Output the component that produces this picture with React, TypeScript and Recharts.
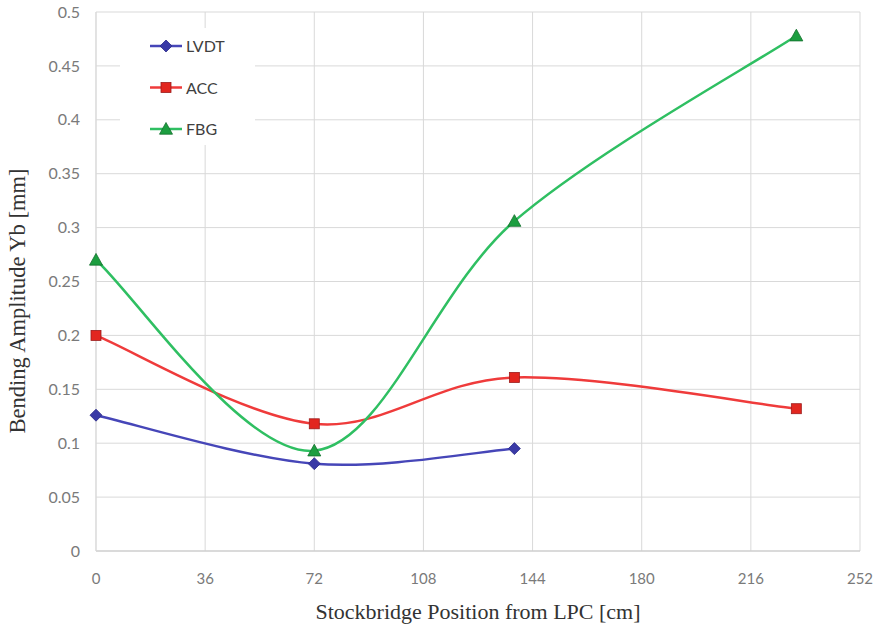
import { LineChart, Line, XAxis, YAxis, CartesianGrid, Legend } from "recharts";

const lvdtX = [0, 72, 138];
const lvdtY = [0.126, 0.081, 0.095];
const accX = [0, 72, 138, 231];
const accY = [0.2, 0.118, 0.161, 0.132];
const fbgX = [0, 72, 138, 231];
const fbgY = [0.27, 0.093, 0.306, 0.478];

const xTicks = [0, 36, 72, 108, 144, 180, 216, 252];
const yTicks = [0, 0.05, 0.1, 0.15, 0.2, 0.25, 0.3, 0.35, 0.4, 0.45, 0.5];

const toPoints = (xs: number[], ys: number[]) => xs.map((x, i) => ({ x, y: ys[i] }));

const lvdt = toPoints(lvdtX, lvdtY);
const acc = toPoints(accX, accY);
const fbg = toPoints(fbgX, fbgY);

const COLORS = {
  lvdt: { line: "#4646b8", fill: "#3a3aa6", stroke: "#2c2c8a" },
  acc: { line: "#ef3b3b", fill: "#e2261f", stroke: "#9c1c1c" },
  fbg: { line: "#2fbf62", fill: "#1c9e40", stroke: "#13702c" },
};

// Excel-like smoothed line (uniform Catmull-Rom as bezier)
const smoothCurve = (context: any) => {
  let pts: number[][] = [];
  return {
    areaStart() {},
    areaEnd() {},
    lineStart() {
      pts = [];
    },
    point(x: number, y: number) {
      pts.push([+x, +y]);
    },
    lineEnd() {
      if (!pts.length) return;
      context.moveTo(pts[0][0], pts[0][1]);
      for (let i = 0; i < pts.length - 1; i++) {
        const p0 = pts[i - 1] || pts[i];
        const p1 = pts[i];
        const p2 = pts[i + 1];
        const p3 = pts[i + 2] || p2;
        context.bezierCurveTo(
          p1[0] + (p2[0] - p0[0]) / 6,
          p1[1] + (p2[1] - p0[1]) / 6,
          p2[0] - (p3[0] - p1[0]) / 6,
          p2[1] - (p3[1] - p1[1]) / 6,
          p2[0],
          p2[1]
        );
      }
    },
  };
};

const Diamond = ({ cx, cy, r = 6 }: any) => (
  <path
    d={`M${cx},${cy - r}L${cx + r},${cy}L${cx},${cy + r}L${cx - r},${cy}Z`}
    fill={COLORS.lvdt.fill}
    stroke={COLORS.lvdt.stroke}
    strokeWidth={0.8}
  />
);

const Square = ({ cx, cy, r = 5 }: any) => (
  <rect
    x={cx - r}
    y={cy - r}
    width={r * 2}
    height={r * 2}
    fill={COLORS.acc.fill}
    stroke={COLORS.acc.stroke}
    strokeWidth={0.8}
  />
);

const Triangle = ({ cx, cy, r = 6.5 }: any) => (
  <path
    d={`M${cx},${cy - r}L${cx + r},${cy + r * 0.8}L${cx - r},${cy + r * 0.8}Z`}
    fill={COLORS.fbg.fill}
    stroke={COLORS.fbg.stroke}
    strokeWidth={0.8}
  />
);

const legendItems = [
  { name: "LVDT", color: COLORS.lvdt.line, Marker: Diamond },
  { name: "ACC", color: COLORS.acc.line, Marker: Square },
  { name: "FBG", color: COLORS.fbg.line, Marker: Triangle },
];

const LegendBox = () => (
  <div style={{ background: "#fff", width: 135, height: 117 }}>
    <svg width={135} height={117}>
      {legendItems.map((it, i) => {
        const y = 18 + i * 41.5;
        return (
          <g key={it.name}>
            <line x1={30} x2={62} y1={y} y2={y} stroke={it.color} strokeWidth={2.5} />
            <it.Marker cx={46} cy={y} />
            <text x={66} y={y + 6} fontFamily="Lato, 'Open Sans', sans-serif" fontSize={16} fill="#404040">
              {it.name}
            </text>
          </g>
        );
      })}
    </svg>
  </div>
);

const YTitle = () => (
  <text
    x={17}
    y={301}
    transform="rotate(-90 17 301)"
    textAnchor="middle"
    dominantBaseline="central"
    fill="#333"
    fontSize={22.5}
    fontFamily="'Liberation Serif', 'DejaVu Serif', serif"
  >
    Bending Amplitude Yb [mm]
  </text>
);

export default function App() {
  return (
    <div style={{ position: "absolute", left: 0, top: 0, background: "#fff" }}>
      <LineChart width={879} height={626} margin={{ top: 12, right: 19, bottom: 0, left: 0 }}>
        <CartesianGrid stroke="#d9d9d9" strokeWidth={1} />
        <XAxis
          type="number"
          dataKey="x"
          domain={[0, 252]}
          ticks={xTicks}
          allowDuplicatedCategory={false}
          height={75}
          tickLine={false}
          axisLine={{ stroke: "#c8c8c8" }}
          tickMargin={16}
          tick={{ fill: "#7a7a7a", fontSize: 15, fontFamily: "'Liberation Sans Narrow', Lato, sans-serif" }}
          label={{
            value: "Stockbridge Position from LPC [cm]",
            position: "insideBottom",
            offset: 7,
            fill: "#333",
            fontSize: 22,
            fontFamily: "'Liberation Serif', 'DejaVu Serif', serif",
          }}
        />
        <YAxis
          type="number"
          domain={[0, 0.5]}
          ticks={yTicks}
          width={96}
          tickLine={false}
          axisLine={{ stroke: "#d9d9d9" }}
          tickMargin={10}
          tick={{ fill: "#7a7a7a", fontSize: 16, fontFamily: "Lato, 'Open Sans', sans-serif" }}
          label={{ content: () => <YTitle /> }}
        />
        <Legend
          layout="vertical"
          align="center"
          verticalAlign="middle"
          wrapperStyle={{ left: 120, top: 28, width: 135 }}
          content={() => <LegendBox />}
        />
        <Line
          data={lvdt}
          dataKey="y"
          name="LVDT"
          type={smoothCurve as any}
          stroke={COLORS.lvdt.line}
          strokeWidth={2.5}
          isAnimationActive={false}
          dot={(p: any) => <Diamond key={`l-${p.index}`} cx={p.cx} cy={p.cy} />}
          activeDot={false}
        />
        <Line
          data={acc}
          dataKey="y"
          name="ACC"
          type={smoothCurve as any}
          stroke={COLORS.acc.line}
          strokeWidth={2.5}
          isAnimationActive={false}
          dot={(p: any) => <Square key={`a-${p.index}`} cx={p.cx} cy={p.cy} />}
          activeDot={false}
        />
        <Line
          data={fbg}
          dataKey="y"
          name="FBG"
          type={smoothCurve as any}
          stroke={COLORS.fbg.line}
          strokeWidth={2.5}
          isAnimationActive={false}
          dot={(p: any) => <Triangle key={`f-${p.index}`} cx={p.cx} cy={p.cy} />}
          activeDot={false}
        />
      </LineChart>
    </div>
  );
}
